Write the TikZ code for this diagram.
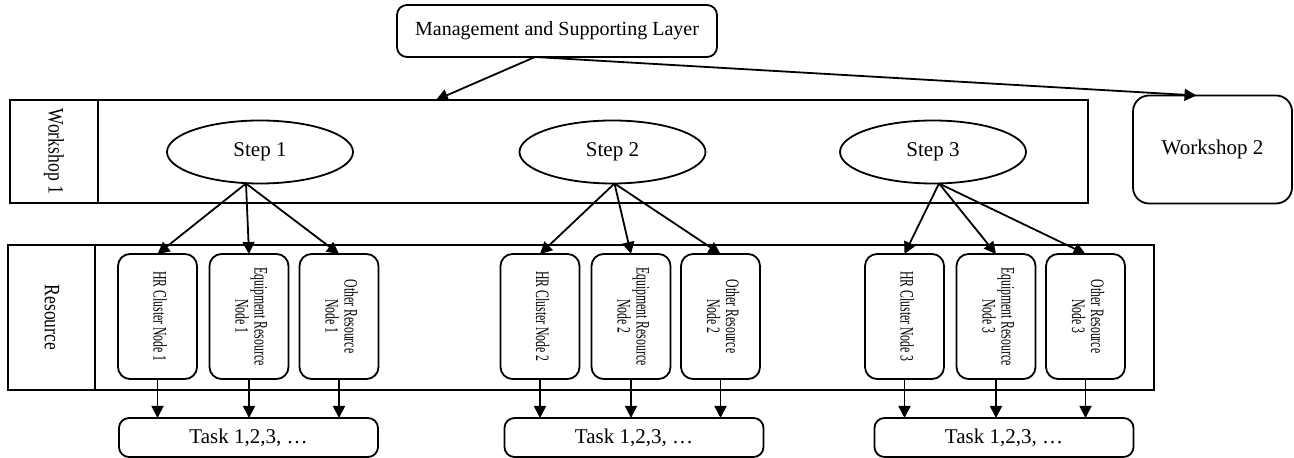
\documentclass[tikz,border=0pt]{standalone}
\usepackage{fontspec}
\setmainfont{Liberation Serif}
\usetikzlibrary{shapes.geometric,arrows.meta}
\newcommand{\vtext}[2]{\scalebox{#1}[1]{\begin{tabular}{@{}c@{}}#2\end{tabular}}}
\begin{document}
\begin{tikzpicture}[x=0.5pt,y=-0.5pt,
  every node/.style={inner sep=0pt,outer sep=0pt},
  lw/.style={line width=0.9pt},
  rbox/.style={lw,draw,rounded corners=5pt,font=\fontsize{10}{12}\selectfont},
  sbox/.style={lw,draw},
  stepnode/.style={lw,draw,ellipse,minimum width=93pt,minimum height=31.5pt,font=\fontsize{10.5}{12}\selectfont},
  resnode/.style={lw,draw,rounded corners=6pt,rotate=-90,minimum width=62.5pt,minimum height=39.5pt,font=\fontsize{9.5}{9.5}\selectfont},
  tasknode/.style={rbox,minimum width=129.5pt,minimum height=19.5pt,font=\fontsize{10.5}{12}\selectfont},
  sidelabel/.style={rotate=-90,font=\fontsize{11}{12}\selectfont},
  arr/.style={lw,-{Triangle[length=6pt,width=6pt]}}]
\useasboundingbox (0,0) rectangle (1294,458);

% top layer
\node[rbox,minimum width=160pt,minimum height=26pt] (mgmt) at (557,31) {Management and Supporting Layer};

% workshop 1 container
\node[sbox,minimum width=539pt,minimum height=51.5pt] (ws1) at (549,151.5) {};
\coordinate (ws1div) at (98,100);
\draw[lw] (ws1div) -- (ws1div |- ws1.south);
\node[sidelabel] (ws1lab) at (54,151.5) {\scalebox{0.8}[1]{Workshop 1}};

% workshop 2
\node[lw,draw,rounded corners=8pt,minimum width=79.5pt,minimum height=54pt,font=\fontsize{10.5}{12}\selectfont] (ws2) at (1212.5,149.5) {Workshop 2};

% steps
\node[stepnode] (s1) at (260,152) {Step 1};
\node[stepnode] (s2) at (612.5,152) {Step 2};
\node[stepnode] (s3) at (933,152) {Step 3};

% resource container
\node[sbox,minimum width=573pt,minimum height=72.5pt] (res) at (581,317.5) {};
\coordinate (resdiv) at (95,245);
\draw[lw] (resdiv) -- (resdiv |- res.south);
\node[sidelabel] (reslab) at (52,317.5) {\scalebox{0.8}[1]{Resource}};

% resource nodes
\node[resnode] (r11) at (157.5,316.5) {\vtext{0.62}{HR Cluster Node 1}};
\node[resnode] (r12) at (249,316.5) {\vtext{0.62}{Equipment Resource\\Node 1}};
\node[resnode] (r13) at (339,316.5) {\vtext{0.62}{Other Resource\\Node 1}};
\node[resnode] (r21) at (540,316.5) {\vtext{0.62}{HR Cluster Node 2}};
\node[resnode] (r22) at (631,316.5) {\vtext{0.62}{Equipment Resource\\Node 2}};
\node[resnode] (r23) at (720.5,316.5) {\vtext{0.62}{Other Resource\\Node 2}};
\node[resnode] (r31) at (904.5,316.5) {\vtext{0.62}{HR Cluster Node 3}};
\node[resnode] (r32) at (996,316.5) {\vtext{0.62}{Equipment Resource\\Node 3}};
\node[resnode] (r33) at (1085.5,316.5) {\vtext{0.62}{Other Resource\\Node 3}};

% tasks
\node[tasknode] (t1) at (248.5,437.5) {Task 1,2,3, \dots};
\node[tasknode] (t2) at (634,437.5) {Task 1,2,3, \dots};
\node[tasknode] (t3) at (1004,437.5) {Task 1,2,3, \dots};

% arrows from management
\coordinate (mo) at ([xshift=-11pt]mgmt.south);
\coordinate (ws1in) at ([xshift=-56.5pt]ws1.north);
\coordinate (ws2in) at ([xshift=-8pt]ws2.north);
\draw[arr] (mo) -- (ws1in);
\draw[arr] (mo) -- (ws2in);

% arrows from steps
\coordinate (s1o) at ([xshift=-7pt]s1.south);
\coordinate (s2o) at ([xshift=1pt]s2.south);
\coordinate (s3o) at ([xshift=3pt]s3.south);
\foreach \g in {1,2,3}{
  \draw[arr] (s\g o) -- (r\g 1.west);
  \draw[arr] (s\g o) -- (r\g 2.west);
  \draw[arr] (s\g o) -- (r\g 3.west);
  \foreach \k in {1,2,3}{
    \draw[arr] (r\g\k.east) -- (r\g\k.east |- t\g.north);
  }
}
\end{tikzpicture}
\end{document}
